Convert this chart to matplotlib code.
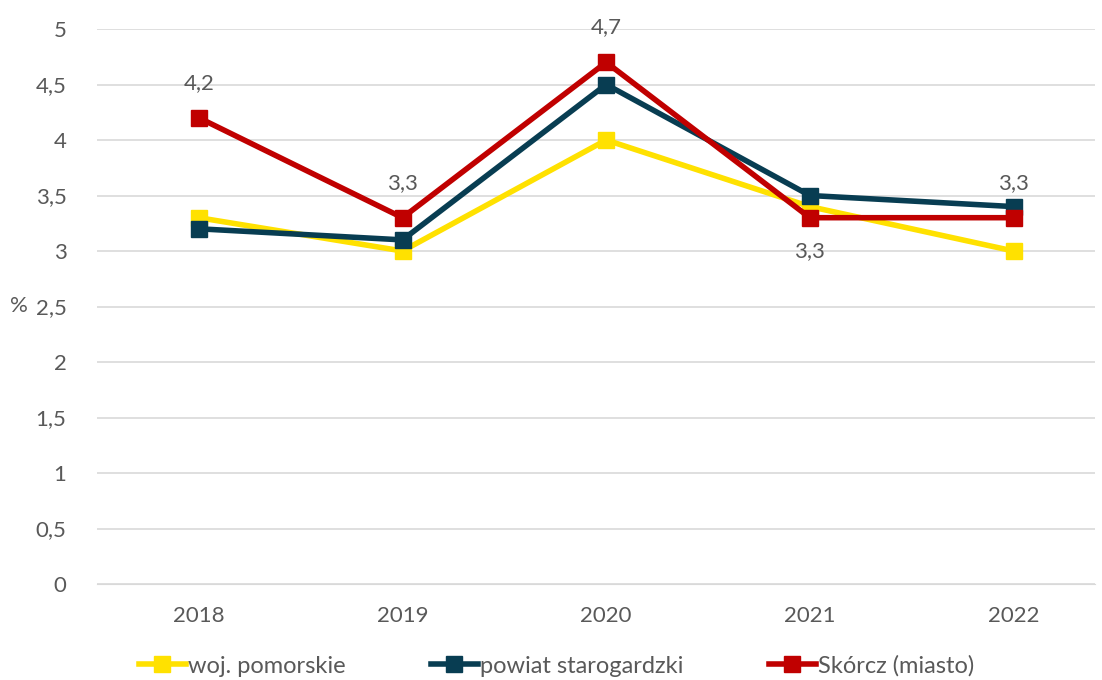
import matplotlib
matplotlib.use("Agg")
import matplotlib.pyplot as plt

years = ["2018", "2019", "2020", "2021", "2022"]
woj = [3.3, 3.0, 4.0, 3.4, 3.0]
powiat = [3.2, 3.1, 4.5, 3.5, 3.4]
skorcz = [4.2, 3.3, 4.7, 3.3, 3.3]
# label placement for Skórcz values: +1 above, -1 below
label_side = [1, 1, 1, -1, 1]

yticks = [0, 0.5, 1, 1.5, 2, 2.5, 3, 3.5, 4, 4.5, 5]

plt.rcParams["font.family"] = ["Lato", "DejaVu Sans"]
GREY = "#595959"
FS = 16

fig = plt.figure(figsize=(11.02, 6.8), dpi=100)
ax = fig.add_axes([97 / 1102, 1 - 584 / 680, (1095 - 97) / 1102, (584 - 29) / 680])

x = list(range(len(years)))
series = [
    (woj, "#FFE100", "woj. pomorskie"),
    (powiat, "#083D52", "powiat starogardzki"),
    (skorcz, "#C00000", "Skórcz (miasto)"),
]
for vals, col, name in series:
    ax.plot(x, vals, color=col, lw=4, marker="s", ms=11, label=name, solid_joinstyle="round")

for i, v in enumerate(skorcz):
    off = 25 if label_side[i] > 0 else -24
    ax.annotate(f"{v:.1f}".replace(".", ","), (i, v), xytext=(0, off), textcoords="offset points",
                ha="center", va="center", fontsize=FS, color=GREY)

ax.set_xlim(-0.5, 4.4)
ax.set_ylim(0, 5)
ax.set_yticks(yticks)
ax.set_yticklabels([f"{t:g}".replace(".", ",") for t in yticks])
ax.set_xticks(x)
ax.set_xticklabels(years)
ax.tick_params(length=0, labelsize=FS, labelcolor=GREY)
ax.tick_params(axis="y", pad=22)
ax.tick_params(axis="x", pad=16)
ax.grid(axis="y", color="#D9D9D9", lw=1.2)
ax.set_axisbelow(True)
for s in ax.spines.values():
    s.set_visible(False)
ax.spines["bottom"].set_visible(True)
ax.spines["bottom"].set_color("#D9D9D9")
ax.set_ylabel("%", rotation=0, fontsize=FS, color=GREY, va="center")
ax.yaxis.set_label_coords(-0.078, 0.5)

ax.legend(loc="center", bbox_to_anchor=(0.505, (680 - 666) / 680), bbox_transform=fig.transFigure,
          ncol=3, frameon=False, fontsize=FS + 1, labelcolor=GREY, handlelength=2.0,
          handletextpad=0.1, columnspacing=3.6)

fig.savefig("out.png", dpi=100)
